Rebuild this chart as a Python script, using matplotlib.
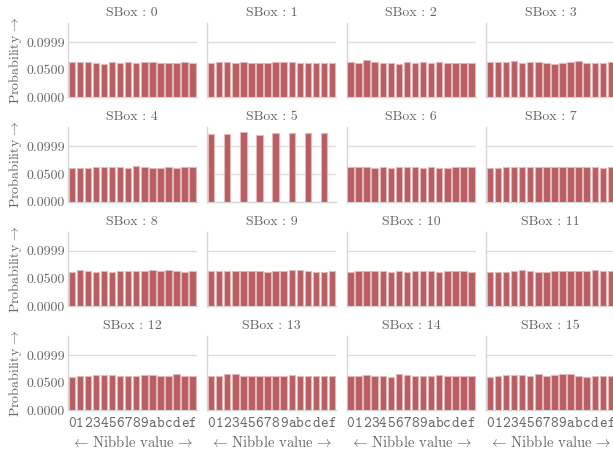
import matplotlib
matplotlib.use("Agg")
import matplotlib.pyplot as plt

plt.rcParams.update({
    "font.family": "serif",
    "font.serif": ["cmr10", "DejaVu Serif"],
    "mathtext.fontset": "cm",
    "axes.unicode_minus": False,
    "text.color": "#666666",
    "axes.labelcolor": "#666666",
    "xtick.color": "#666666",
    "ytick.color": "#666666",
})

nibbles = list("0123456789abcdef")
ytick_vals = [0.0, 0.05, 0.0999]
ytick_labels = ["0.0000", "0.0500", "0.0999"]

# probability of each output nibble, per sbox
sbox_probs = [
    [0.0642, 0.0642, 0.0630, 0.0624, 0.0606, 0.0630, 0.0624, 0.0630,
     0.0624, 0.0630, 0.0630, 0.0612, 0.0624, 0.0612, 0.0630, 0.0624],
    [0.0612, 0.0630, 0.0642, 0.0612, 0.0630, 0.0624, 0.0624, 0.0624,
     0.0630, 0.0630, 0.0642, 0.0624, 0.0624, 0.0612, 0.0624, 0.0624],
    [0.0630, 0.0624, 0.0666, 0.0630, 0.0624, 0.0624, 0.0606, 0.0630,
     0.0624, 0.0642, 0.0612, 0.0630, 0.0624, 0.0624, 0.0624, 0.0624],
    [0.0630, 0.0642, 0.0630, 0.0648, 0.0624, 0.0630, 0.0642, 0.0612,
     0.0606, 0.0612, 0.0630, 0.0648, 0.0612, 0.0612, 0.0624, 0.0630],
    [0.0612, 0.0606, 0.0612, 0.0618, 0.0630, 0.0624, 0.0624, 0.0612,
     0.0642, 0.0618, 0.0612, 0.0612, 0.0630, 0.0612, 0.0618, 0.0618],
    [0.1218, 0.0, 0.1231, 0.0, 0.1255, 0.0, 0.1213, 0.0,
     0.1236, 0.0, 0.1242, 0.0, 0.1236, 0.0, 0.1236, 0.0],
    [0.0618, 0.0618, 0.0618, 0.0612, 0.0630, 0.0612, 0.0636, 0.0618,
     0.0618, 0.0612, 0.0618, 0.0612, 0.0606, 0.0618, 0.0618, 0.0618],
    [0.0612, 0.0612, 0.0618, 0.0630, 0.0618, 0.0618, 0.0618, 0.0618,
     0.0618, 0.0618, 0.0618, 0.0618, 0.0618, 0.0618, 0.0612, 0.0618],
    [0.0624, 0.0648, 0.0630, 0.0624, 0.0642, 0.0624, 0.0630, 0.0630,
     0.0630, 0.0642, 0.0648, 0.0630, 0.0648, 0.0630, 0.0624, 0.0630],
    [0.0630, 0.0630, 0.0630, 0.0630, 0.0630, 0.0642, 0.0630, 0.0624,
     0.0630, 0.0642, 0.0648, 0.0648, 0.0630, 0.0624, 0.0612, 0.0642],
    [0.0624, 0.0630, 0.0630, 0.0630, 0.0630, 0.0624, 0.0630, 0.0612,
     0.0642, 0.0630, 0.0630, 0.0624, 0.0642, 0.0630, 0.0642, 0.0624],
    [0.0624, 0.0624, 0.0624, 0.0630, 0.0648, 0.0630, 0.0612, 0.0624,
     0.0630, 0.0642, 0.0642, 0.0630, 0.0630, 0.0660, 0.0642, 0.0630],
    [0.0612, 0.0630, 0.0624, 0.0642, 0.0642, 0.0642, 0.0630, 0.0630,
     0.0624, 0.0642, 0.0642, 0.0630, 0.0630, 0.0666, 0.0630, 0.0630],
    [0.0630, 0.0630, 0.0654, 0.0654, 0.0630, 0.0630, 0.0630, 0.0624,
     0.0630, 0.0630, 0.0642, 0.0630, 0.0630, 0.0630, 0.0630, 0.0624],
    [0.0630, 0.0630, 0.0642, 0.0630, 0.0630, 0.0606, 0.0654, 0.0648,
     0.0630, 0.0630, 0.0630, 0.0642, 0.0630, 0.0630, 0.0630, 0.0630],
    [0.0612, 0.0630, 0.0648, 0.0642, 0.0642, 0.0630, 0.0654, 0.0624,
     0.0642, 0.0654, 0.0654, 0.0624, 0.0612, 0.0630, 0.0630, 0.0630],
]

bar_color = "#b85e62"
edge_color = "#e3b6b8"
W, H = 613, 449

fig = plt.figure(figsize=(W / 100, H / 100), dpi=100)

for k, probs in enumerate(sbox_probs):
    row, col = divmod(k, 4)
    left = (67.7 + 139.4 * col) / W
    top = (22.7 + 104.4 * row) / H
    ax = fig.add_axes([left, 1 - top - 74.5 / H, 129 / W, 74.5 / H])

    ax.bar(range(16), probs, width=0.8, color=bar_color,
           edgecolor=edge_color, linewidth=0.8, zorder=3)

    ax.set_xlim(-0.5, 15.5)
    ax.set_ylim(0, 0.135)
    ax.set_yticks(ytick_vals)
    ax.set_xticks(range(16))
    ax.grid(axis="y", color="#dddddd", linewidth=1, zorder=0)
    ax.tick_params(axis="y", length=0, labelsize=10, pad=2)
    ax.tick_params(axis="x", length=0, labelsize=10.5, pad=5)
    for s in ("top", "right"):
        ax.spines[s].set_visible(False)
    for s in ("left", "bottom"):
        ax.spines[s].set_color("#d6d6d6")
        ax.spines[s].set_linewidth(1)
    ax.set_title(f"SBox : {k}", fontsize=10, color="#666666", pad=5)

    if col == 0:
        ax.set_yticklabels(ytick_labels)
        ax.set_ylabel(r"Probability$\,\rightarrow$", fontsize=10, labelpad=2)
    else:
        ax.set_yticklabels([])

    if row == 3:
        ax.set_xticklabels(nibbles, family="cmtt10", fontsize=10.5)
        ax.set_xlabel(r"$\leftarrow\,$Nibble value$\,\rightarrow$",
                      fontsize=10.5, labelpad=2)
    else:
        ax.set_xticklabels([])

fig.savefig("out.png", dpi=100)
